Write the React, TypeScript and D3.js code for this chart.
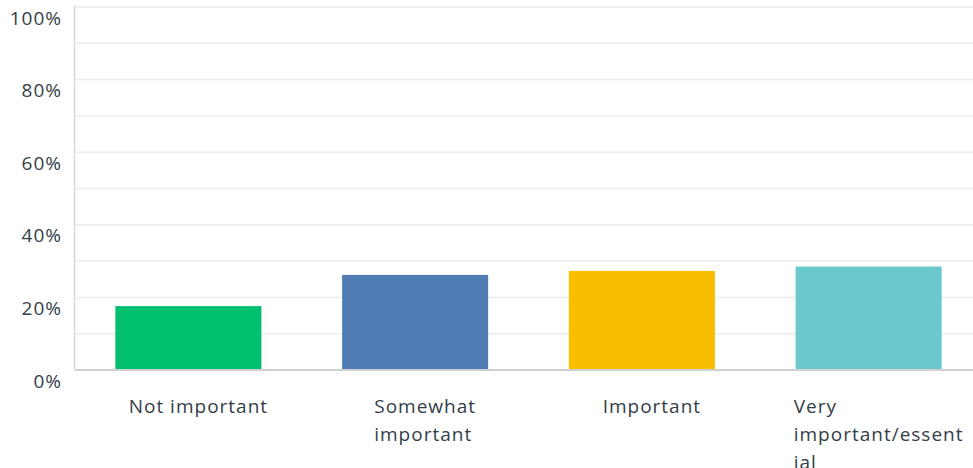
import React from "react";
import * as d3 from "d3";

const categories = ["Not important", "Somewhat important", "Important", "Very important/essential"];
const labelLines = [["Not important"], ["Somewhat", "important"], ["Important"], ["Very", "important/essent", "ial"]];
const values = [17.6, 26.2, 27.3, 28.5];
const colors = ["#00bf6f", "#507cb6", "#f9be00", "#6bc8cd"];
const yTicks = [0, 20, 40, 60, 80, 100];
const gridTicks = [10, 20, 30, 40, 50, 60, 70, 80, 90, 100];

const W = 973, H = 468;
const left = 75, right = 982, top = 7, bottom = 370;
const FONT = "'Open Sans', sans-serif";
const FS = 19;
const LS = 1.0;

function measure(t: string) {
  if (typeof document === "undefined") return t.length * 9;
  const c = document.createElement("canvas").getContext("2d")!;
  c.font = `${FS}px ${FONT}`;
  return c.measureText(t).width + LS * t.length;
}

export default function App() {
  const x = d3.scaleBand<string>().domain(categories).range([left, right]).paddingInner(0.356).paddingOuter(0.178);
  const y = d3.scaleLinear().domain([0, 100]).range([bottom, top]);
  return (
    <svg width={W} height={H} style={{ position: "absolute", left: 0, top: 0 }} fontFamily={FONT}>
      {gridTicks.map((t) => (
        <line key={t} x1={left} x2={W} y1={y(t)} y2={y(t)} stroke="#ececec" strokeWidth={1.5} />
      ))}
      <line x1={left - 0.5} x2={left - 0.5} y1={top - 2} y2={bottom} stroke="#d9d9d9" strokeWidth={1.5} />
      {yTicks.map((t) => (
        <text key={t} x={62} y={y(t) + 11} dy="0.35em" textAnchor="end" fontSize={FS} fill="#333e48" letterSpacing={LS}>
          {t}%
        </text>
      ))}
      {categories.map((c, i) => (
        <rect key={c} x={x(c)} y={y(values[i])} width={x.bandwidth()} height={y(0) - y(values[i])} fill={colors[i]} />
      ))}
      <line x1={left} x2={W} y1={bottom} y2={bottom} stroke="#d0d0d0" strokeWidth={2} />
      {categories.map((c, i) => {
        const lines = labelLines[i];
        const w = Math.max(...lines.map(measure));
        const cx = x(c)! + x.bandwidth() / 2;
        const lx = cx - w / 2 + 10;
        return (
          <text key={c} fontSize={FS} fill="#333e48" letterSpacing={LS}>
            {lines.map((l, j) => (
              <tspan key={j} x={lx} y={413 + j * 28}>{l}</tspan>
            ))}
          </text>
        );
      })}
    </svg>
  );
}
